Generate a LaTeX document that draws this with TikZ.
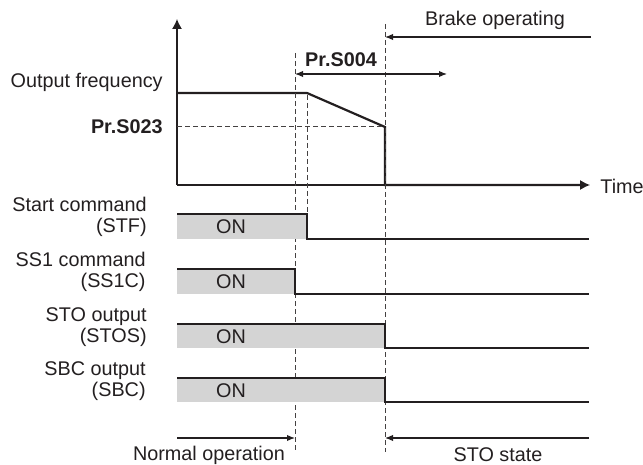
\documentclass[tikz,border=0pt]{standalone}
\usepackage{fontspec}
\setmainfont{Liberation Sans}
\usepackage{xcolor}
\usepackage{tikz}
\usetikzlibrary{arrows.meta, positioning}

\definecolor{ink}{RGB}{35,31,32}
\definecolor{ongray}{RGB}{212,212,212}

\begin{document}
\begin{tikzpicture}[
      x=0.5pt, y=-0.5pt,
      font=\fontsize{9.9}{10.5}\selectfont, text=ink,
      sig/.style={draw=ink, line width=0.65pt},
      onbox/.style={fill=ongray, draw=none},
      freq/.style={draw=ink, line width=1.1pt},
      axis/.style={draw=ink, line width=0.6pt, -{Latex[length=5pt, width=5pt]}},
      guide/.style={draw=ink!85, line width=0.5pt, dash pattern=on 2.5pt off 1.5pt},
      span/.style={draw=ink, line width=0.6pt, -{Latex[length=4pt, width=3.2pt]}},
      twospan/.style={draw=ink, line width=0.6pt, {Latex[length=4pt, width=3.2pt]}-{Latex[length=4pt, width=3.2pt]}},
      lbl/.style={align=right, anchor=east, inner sep=0pt},
      txt/.style={inner sep=0pt}
    ]
    \useasboundingbox (0,0) rectangle (643,465);

    % axes and output frequency
    \coordinate (origin) at (177,185);
    \coordinate (ytop) at (177,19);
    \coordinate (xend) at (590,185);
    \draw[axis] (origin) -- (ytop);
    \draw[axis] (origin) -- (xend);
    \node[txt, anchor=west] (time) at (600,186) {Time};

    \coordinate (fstart) at (177,93);
    \coordinate (fdecel) at (307,93);
    \coordinate (fcut) at (385,127);
    \coordinate (fzero) at (385,185);
    \coordinate (fend) at (580,185);
    \draw[freq] (fstart) -- (fdecel) -- (fcut) -- (fzero) -- (fend);
    \draw[guide] (177,127) -- (fcut);

    \node[lbl] (outfreq) at (163,82) {Output frequency};
    \node[lbl, font=\fontsize{9.9}{10.5}\selectfont\bfseries] (s023) at (163,127) {Pr.S023};

    % timing guides
    \draw[guide] (295,53) -- (295,452);
    \draw[guide] (307,95) -- (307,214);
    \draw[guide] (385,24) -- (385,452);

    \coordinate (s004a) at (295,74);
    \coordinate (s004b) at (447,74);
    \draw[twospan] (s004a) -- (s004b);
    \node[txt, font=\fontsize{9.9}{10.5}\selectfont\bfseries] (s004) at (341,60) {Pr.S004};

    \coordinate (brakeR) at (591,37);
    \coordinate (brakeL) at (385,37);
    \draw[span] (brakeR) -- (brakeL);
    \node[txt] (brake) at (495,20) {Brake operating};

    % signals
    \fill[onbox] (177,214) rectangle (307,239);
    \draw[sig] (177,214) -- (307,214) -- (307,239) -- (589,239);
    \node[txt] (on1) at (231,227) {ON};
    \node[lbl] (stf) at (147,217) {Start command\\(STF)};

    \fill[onbox] (177,269) rectangle (295,294);
    \draw[sig] (177,269) -- (295,269) -- (295,294) -- (589,294);
    \node[txt] (on2) at (231,282) {ON};
    \node[lbl] (ss1c) at (146,272) {SS1 command\\(SS1C)};

    \fill[onbox] (177,324) rectangle (385,348);
    \draw[sig] (177,324) -- (385,324) -- (385,348) -- (589,348);
    \node[txt] (on3) at (231,337) {ON};
    \node[lbl] (stos) at (147,327) {STO output\\(STOS)};

    \fill[onbox] (177,378) rectangle (385,402);
    \draw[sig] (177,378) -- (385,378) -- (385,402) -- (589,402);
    \node[txt] (on4) at (231,391) {ON};
    \node[lbl] (sbc) at (146,381) {SBC output\\(SBC)};

    % states
    \coordinate (normL) at (177,438);
    \coordinate (normR) at (295,438);
    \draw[span] (normL) -- (normR);
    \node[txt] (normal) at (209,455) {Normal operation};

    \coordinate (stoR) at (589,438);
    \coordinate (stoL) at (385,438);
    \draw[span] (stoR) -- (stoL);
    \node[txt] (stostate) at (498,455) {STO state};
  \end{tikzpicture}
\end{document}
